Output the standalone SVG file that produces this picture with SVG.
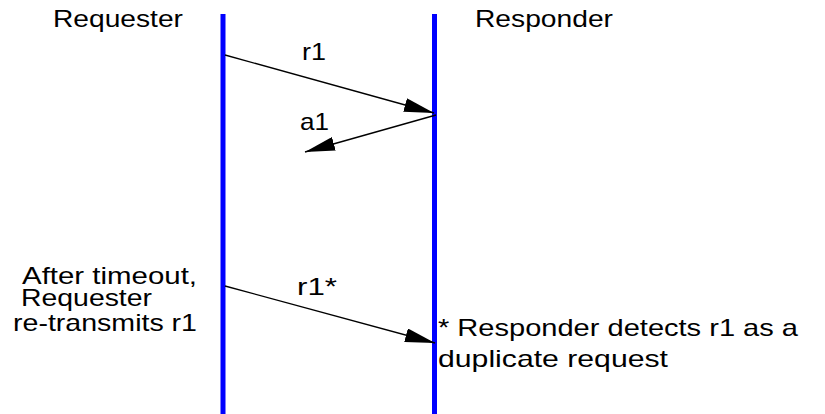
<svg xmlns="http://www.w3.org/2000/svg" width="825" height="414" viewBox="0 0 825 414">
<style>
.t{font-family:"Liberation Sans",Arial,sans-serif;font-size:24px;fill:#000}
.life{stroke:#0000ff;stroke-width:5;fill:none}
.msg{stroke:#000;stroke-width:1.3;fill:none}
</style>
<defs>
<marker id="ah" viewBox="0 -7 30 14" refX="30" refY="0" markerWidth="30" markerHeight="14" markerUnits="userSpaceOnUse" orient="auto">
<path d="M0,-7 L30,0 L0,7 z" fill="#000"/>
</marker>
</defs>
<rect width="825" height="414" fill="#fff"/>
<g id="requester">
<line class="life" x1="223" y1="14" x2="223" y2="414"/>
<text class="t" x="53" y="27" textLength="130" lengthAdjust="spacingAndGlyphs">Requester</text>
</g>
<g id="responder">
<line class="life" x1="434.5" y1="14" x2="434.5" y2="414"/>
<text class="t" x="475" y="27" textLength="138" lengthAdjust="spacingAndGlyphs">Responder</text>
</g>
<g id="note-left">
<text class="t" x="22" y="284" textLength="175" lengthAdjust="spacingAndGlyphs">After timeout,</text>
<text class="t" x="21" y="306" textLength="131" lengthAdjust="spacingAndGlyphs">Requester</text>
<text class="t" x="13" y="331" textLength="184" lengthAdjust="spacingAndGlyphs">re-transmits r1</text>
</g>
<g id="note-right">
<text class="t" x="438" y="336" textLength="360" lengthAdjust="spacingAndGlyphs">* Responder detects r1 as a</text>
<text class="t" x="438" y="367" textLength="230" lengthAdjust="spacingAndGlyphs">duplicate request</text>
</g>
<g id="connectors">
<line class="msg" x1="225" y1="55" x2="434" y2="113" marker-end="url(#ah)"/>
<line class="msg" x1="436" y1="115" x2="305" y2="152" marker-end="url(#ah)"/>
<line class="msg" x1="225" y1="286" x2="435" y2="343" marker-end="url(#ah)"/>
<text class="t" x="302" y="60" textLength="24" lengthAdjust="spacingAndGlyphs">r1</text>
<text class="t" x="300" y="130" textLength="29" lengthAdjust="spacingAndGlyphs">a1</text>
<text class="t" x="297" y="295" textLength="40" lengthAdjust="spacingAndGlyphs">r1*</text>
</g>
</svg>
